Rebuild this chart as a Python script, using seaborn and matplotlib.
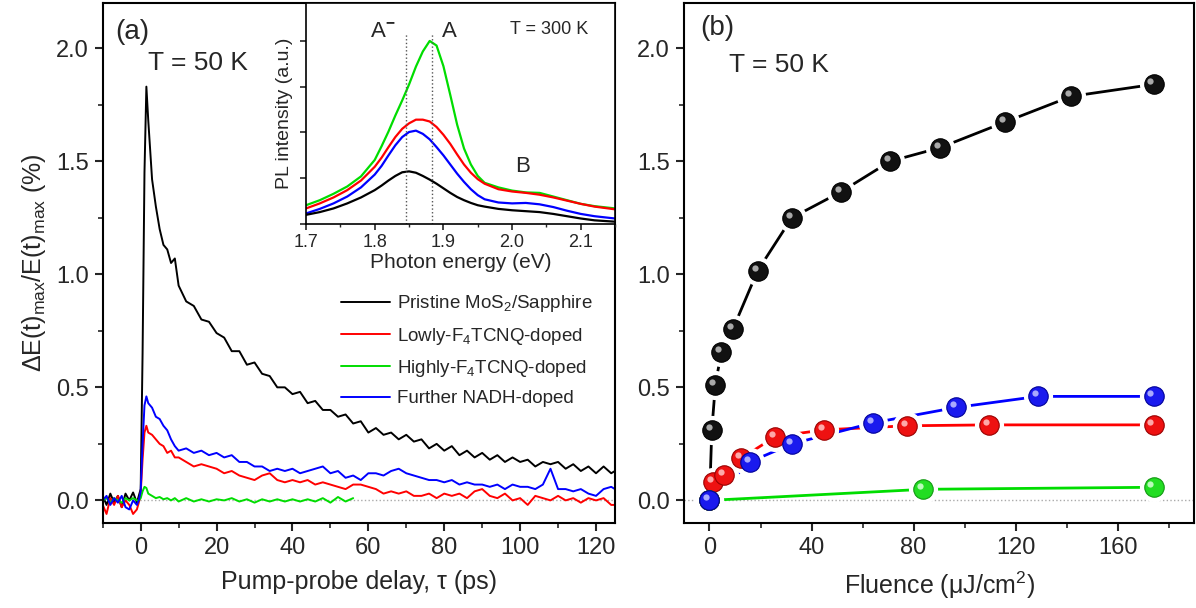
import numpy as np
import pandas as pd
import matplotlib
matplotlib.use('Agg')
import matplotlib.pyplot as plt
import matplotlib.transforms as mtransforms
from matplotlib.ticker import MultipleLocator, NullFormatter
import seaborn as sns

sns.set_style('ticks')
plt.rcParams['font.family'] = ['Liberation Sans', 'DejaVu Sans']
plt.rcParams['mathtext.fontset'] = 'custom'
plt.rcParams['mathtext.rm'] = 'Liberation Sans'
plt.rcParams['mathtext.it'] = 'Liberation Sans:italic'
plt.rcParams['mathtext.bf'] = 'Liberation Sans:bold'

# ---------------- data ----------------
SAMPLES = ['Pristine MoS$_2$/Sapphire', 'Lowly-F$_4$TCNQ-doped',
           'Highly-F$_4$TCNQ-doped', 'Further NADH-doped']
COLORS = ['#000000', '#ff0000', '#00dd00', '#0000ff']

# (a) transient traces, pump-probe delay (ps)
T_DELAY = [-10, -9, -8, -7, -6, -5, -4, -3, -2, -1, -0.5, 0,
           0.5, 1, 1.5, 2, 3, 4, 5, 6, 7, 8, 9, 10,
           12, 14, 16, 18, 20, 22, 24, 26, 28, 30, 32, 34, 36, 38, 40,
           42, 44, 46, 48, 50, 52, 54, 56, 58, 60, 62, 64, 66, 68, 70,
           72, 74, 76, 78, 80, 82, 84, 86, 88, 90, 92, 94, 96, 98, 100,
           102, 104, 106, 108, 110, 112, 114, 116, 118, 120, 122, 124, 125]

DE_PRISTINE = [0.02, -0.02, 0.03, -0.01, 0.02, -0.03, 0.03, 0.0, 0.035, -0.01, 0.02, 0.05,
               0.65, 1.45, 1.83, 1.68, 1.42, 1.30, 1.20, 1.13, 1.11, 1.05, 1.07, 0.95,
               0.88, 0.86, 0.80, 0.79, 0.74, 0.72, 0.66, 0.66, 0.60, 0.61, 0.56, 0.55, 0.50, 0.50, 0.47,
               0.48, 0.43, 0.44, 0.40, 0.40, 0.37, 0.38, 0.34, 0.35, 0.30, 0.32, 0.29, 0.30, 0.27, 0.29,
               0.26, 0.27, 0.23, 0.25, 0.22, 0.24, 0.20, 0.22, 0.19, 0.21, 0.18, 0.20, 0.17, 0.19, 0.17,
               0.18, 0.15, 0.17, 0.16, 0.17, 0.14, 0.16, 0.13, 0.15, 0.12, 0.15, 0.12, 0.13]

DE_LOWLY = [-0.02, -0.06, 0.01, -0.02, 0.02, -0.03, 0.0, -0.02, -0.06, -0.04, -0.01, 0.03,
            0.18, 0.30, 0.33, 0.30, 0.29, 0.27, 0.25, 0.24, 0.21, 0.22, 0.19, 0.19,
            0.17, 0.15, 0.16, 0.15, 0.14, 0.12, 0.13, 0.11, 0.10, 0.09, 0.11, 0.12, 0.09, 0.08, 0.09,
            0.08, 0.09, 0.07, 0.08, 0.07, 0.06, 0.05, 0.07, 0.07, 0.06, 0.05, 0.03, 0.04, 0.03, 0.04,
            0.02, 0.02, 0.03, 0.01, 0.03, 0.02, 0.03, 0.01, 0.04, 0.05, 0.02, 0.01, 0.03, 0.0, 0.01,
            -0.02, 0.02, 0.01, 0.0, 0.02, 0.0, 0.01, -0.01, 0.01, 0.0, 0.01, -0.02, -0.02]

DE_HIGHLY = [0.0, 0.01, -0.01, 0.01, 0.0, -0.01, 0.01, 0.0, 0.01, 0.0, 0.0, 0.01,
             0.04, 0.06, 0.055, 0.03, 0.02, 0.01, 0.015, 0.005, 0.01, 0.0, 0.01, -0.005,
             0.01, -0.005, 0.005, -0.005, 0.005, 0.0, 0.01, -0.005, 0.005, -0.01, 0.005, -0.005, 0.005, -0.005, 0.005,
             -0.005, 0.005, -0.005, 0.01, -0.01, 0.015, -0.005, 0.01]

DE_NADH = [0.0, 0.02, -0.02, 0.01, -0.01, 0.02, -0.03, -0.04, 0.0, -0.02, 0.0, 0.04,
           0.25, 0.42, 0.46, 0.43, 0.41, 0.37, 0.36, 0.33, 0.31, 0.27, 0.24, 0.22,
           0.23, 0.21, 0.22, 0.20, 0.21, 0.19, 0.20, 0.17, 0.17, 0.15, 0.15, 0.13, 0.14, 0.13, 0.14,
           0.12, 0.13, 0.14, 0.15, 0.12, 0.13, 0.10, 0.11, 0.09, 0.12, 0.12, 0.11, 0.13, 0.14, 0.12,
           0.11, 0.10, 0.09, 0.09, 0.08, 0.09, 0.07, 0.08, 0.07, 0.07, 0.06, 0.07, 0.05, 0.07, 0.06,
           0.06, 0.05, 0.07, 0.14, 0.05, 0.05, 0.04, 0.05, 0.03, 0.02, 0.05, 0.06, 0.05]

# inset: PL spectra at 300 K
E_PL = [1.70, 1.72, 1.74, 1.76, 1.78, 1.80, 1.81, 1.82, 1.83, 1.84, 1.85, 1.86, 1.87,
        1.88, 1.89, 1.90, 1.91, 1.92, 1.93, 1.94, 1.95, 1.96, 1.98, 2.00, 2.02, 2.04,
        2.06, 2.08, 2.10, 2.12, 2.15]
PL_PRISTINE = [0.20, 0.26, 0.34, 0.45, 0.58, 0.74, 0.84, 0.95, 1.05, 1.13, 1.15, 1.12, 1.05,
               0.97, 0.88, 0.78, 0.68, 0.59, 0.52, 0.46, 0.41, 0.38, 0.33, 0.30, 0.28, 0.26,
               0.22, 0.17, 0.12, 0.08, 0.05]
PL_LOWLY = [0.34, 0.45, 0.58, 0.74, 0.95, 1.25, 1.45, 1.68, 1.90, 2.08, 2.20, 2.28, 2.28,
            2.24, 2.12, 1.95, 1.75, 1.52, 1.30, 1.12, 0.98, 0.88, 0.76, 0.71, 0.68, 0.64,
            0.58, 0.51, 0.44, 0.38, 0.32]
PL_HIGHLY = [0.41, 0.52, 0.66, 0.82, 1.04, 1.40, 1.70, 2.02, 2.37, 2.70, 3.05, 3.44, 3.77,
             4.00, 3.90, 3.45, 2.82, 2.17, 1.65, 1.30, 1.05, 0.90, 0.80, 0.73, 0.69, 0.68,
             0.60, 0.52, 0.44, 0.39, 0.34]
PL_NADH = [0.23, 0.33, 0.45, 0.60, 0.80, 1.08, 1.27, 1.50, 1.72, 1.90, 2.01, 2.04, 1.97,
           1.85, 1.68, 1.50, 1.30, 1.10, 0.92, 0.76, 0.63, 0.54, 0.47, 0.45, 0.46, 0.43,
           0.37, 0.29, 0.22, 0.17, 0.12]
PEAK_POS = [1.845, 1.883]

# (b) amplitude vs fluence (uJ/cm^2)
FLU_PRISTINE = [0, 0.9, 2.3, 4.6, 9.1, 18.9, 32.3, 51.6, 70.9, 90.4, 115.8, 141.8, 174.1]
AMP_PRISTINE = [0, 0.31, 0.51, 0.655, 0.756, 1.016, 1.25, 1.365, 1.50, 1.56, 1.673, 1.787, 1.84]
FLU_LOWLY = [0, 1.3, 5.85, 12.4, 25.8, 44.9, 77.4, 109.6, 174.1]
AMP_LOWLY = [0, 0.083, 0.112, 0.186, 0.282, 0.312, 0.33, 0.334, 0.334]
FLU_HIGHLY = [0, 83.9, 174.1]
AMP_HIGHLY = [0, 0.049, 0.058]
FLU_NADH = [0, 16.0, 32.3, 64.1, 96.7, 128.8, 174.1]
AMP_NADH = [0, 0.171, 0.25, 0.343, 0.411, 0.46, 0.46]

# ---------------- figure ----------------
fig = plt.figure(figsize=(11.96, 6.08), dpi=100)
ax_a = fig.add_axes([0.0859, 0.1398, 0.4283, 0.8553])
ax_b = fig.add_axes([0.5719, 0.1398, 0.4265, 0.8553])
ax_in = fig.add_axes([0.2559, 0.6316, 0.2584, 0.3635])

palette = dict(zip(SAMPLES, COLORS))

def style_axes(ax, lw=1.5):
    for sp in ax.spines.values():
        sp.set_visible(True)
        sp.set_linewidth(lw)
        sp.set_color('black')

# ---- panel (a)
traces = [DE_PRISTINE, DE_LOWLY, DE_HIGHLY, DE_NADH]
df_a = pd.concat([pd.DataFrame({'t': T_DELAY[:len(v)], 'v': v, 'sample': s})
                  for s, v in zip(SAMPLES, traces)], ignore_index=True)
ax_a.axhline(0, color='#aaaaaa', ls=':', lw=1.0, zorder=0)
sns.lineplot(data=df_a, x='t', y='v', hue='sample', hue_order=SAMPLES,
             palette=palette, estimator=None, sort=False, lw=1.4, ax=ax_a)
ax_a.set_xlim(-10, 125)
ax_a.set_ylim(-0.1, 2.2)
ax_a.xaxis.set_major_locator(MultipleLocator(20))
ax_a.xaxis.set_minor_locator(MultipleLocator(10))
ax_a.yaxis.set_major_locator(MultipleLocator(0.5))
ax_a.yaxis.set_minor_locator(MultipleLocator(0.25))
ax_a.yaxis.set_major_formatter(matplotlib.ticker.FormatStrFormatter('%.1f'))
ax_a.set_xlabel('Pump-probe delay, τ (ps)', fontsize=18, labelpad=8)
ax_a.set_ylabel(r'$\Delta$E(t)$_{\rm max}$/E(t)$_{\rm max}$ (%)', fontsize=18, labelpad=6)
h, l = ax_a.get_legend_handles_labels()
ax_a.legend(h, l, loc='lower right', bbox_to_anchor=(0.99, 0.19), frameon=False,
            fontsize=13.5, handlelength=2.6, handletextpad=0.4, labelspacing=0.6)
ax_a.text(0.057, 0.944, '(a)', transform=ax_a.transAxes, fontsize=20, ha='center', va='center')
ax_a.text(0.186, 0.885, 'T = 50 K', transform=ax_a.transAxes, fontsize=19, ha='center', va='center')

# ---- inset
pls = [PL_HIGHLY, PL_LOWLY, PL_NADH, PL_PRISTINE]
pl_names = [SAMPLES[2], SAMPLES[1], SAMPLES[3], SAMPLES[0]]
df_in = pd.concat([pd.DataFrame({'E': E_PL, 'I': v, 'sample': s})
                   for s, v in zip(pl_names, pls)], ignore_index=True)
sns.lineplot(data=df_in, x='E', y='I', hue='sample', hue_order=pl_names,
             palette=palette, estimator=None, sort=False, lw=1.6, ax=ax_in, legend=False)
ax_in.vlines(PEAK_POS, 0, 4.15, colors='#555555', linestyles=':', lw=1.0)
ax_in.set_xlim(1.7, 2.15)
ax_in.set_ylim(0, 4.83)
ax_in.xaxis.set_major_locator(MultipleLocator(0.1))
ax_in.xaxis.set_minor_locator(MultipleLocator(0.05))
ax_in.yaxis.set_major_locator(MultipleLocator(1))
ax_in.yaxis.set_major_formatter(NullFormatter())
ax_in.set_xlabel('Photon energy (eV)', fontsize=15, labelpad=2)
ax_in.set_ylabel('PL intensity (a.u.)', fontsize=14, labelpad=2)
ax_in.tick_params(axis='x', which='major', labelsize=13, length=4, width=1.2, pad=3, direction='out')
ax_in.tick_params(axis='x', which='minor', length=2.5, width=1.0, direction='out')
ax_in.tick_params(axis='y', which='major', length=4, width=1.2, direction='out')
ax_in.text(1.812, 4.2, r'A$^{\mathbf{-}}$', fontsize=16, ha='center', va='center')
ax_in.text(1.909, 4.2, 'A', fontsize=16, ha='center', va='center')
ax_in.text(2.015, 1.26, 'B', fontsize=16, ha='center', va='center')
ax_in.text(0.786, 0.878, 'T = 300 K', transform=ax_in.transAxes, fontsize=13, ha='center', va='center')
style_axes(ax_in, 1.2)

# ---- panel (b)
ax_b.axhline(0, color='#aaaaaa', ls=':', lw=1.0, zorder=0)
series_b = [(FLU_PRISTINE, AMP_PRISTINE), (FLU_LOWLY, AMP_LOWLY),
            (FLU_HIGHLY, AMP_HIGHLY), (FLU_NADH, AMP_NADH)]
ball_face = ['#111111', '#ee1111', '#22dd22', '#1a1aee']
ball_edge = ['#000000', '#990000', '#119911', '#000099']
hilite = ['#bbbbbb', '#ffbbbb', '#ccffcc', '#bbbbff']
for (f, a), c in zip(series_b, COLORS):
    sns.lineplot(x=f, y=a, color=c, lw=2.0, estimator=None, sort=False, ax=ax_b)
for (f, a) in series_b:
    ax_b.plot(f, a, 'o', ms=21, color='white', mew=0, zorder=3)
shift = mtransforms.offset_copy(ax_b.transData, fig=fig, x=-2.2, y=2.2, units='points')
for i, (f, a) in enumerate(series_b):
    ax_b.plot(f, a, 'o', ms=14, mfc=ball_face[i], mec=ball_edge[i], mew=0.8, zorder=4 + i)
    ax_b.plot(f, a, 'o', ms=4.5, color=hilite[i], mew=0, alpha=0.9, transform=shift, zorder=4.5 + i)
ax_b.set_xlim(-10, 190)
ax_b.set_ylim(-0.1, 2.2)
ax_b.xaxis.set_major_locator(MultipleLocator(40))
ax_b.xaxis.set_minor_locator(MultipleLocator(20))
ax_b.yaxis.set_major_locator(MultipleLocator(0.5))
ax_b.yaxis.set_minor_locator(MultipleLocator(0.25))
ax_b.yaxis.set_major_formatter(matplotlib.ticker.FormatStrFormatter('%.1f'))
ax_b.set_xlabel('Fluence (μJ/cm$^2$)', fontsize=18, labelpad=8)
ax_b.set_ylabel('')
ax_b.text(0.0646, 0.952, '(b)', transform=ax_b.transAxes, fontsize=20, ha='center', va='center')
ax_b.text(0.186, 0.881, 'T = 50 K', transform=ax_b.transAxes, fontsize=19, ha='center', va='center')

for ax in (ax_a, ax_b):
    style_axes(ax, 1.5)
    ax.tick_params(axis='both', which='major', labelsize=17, length=6, width=1.5,
                   direction='out', pad=4)
    ax.tick_params(axis='both', which='minor', length=3.5, width=1.2, direction='out')

fig.savefig('out.png', dpi=100)
